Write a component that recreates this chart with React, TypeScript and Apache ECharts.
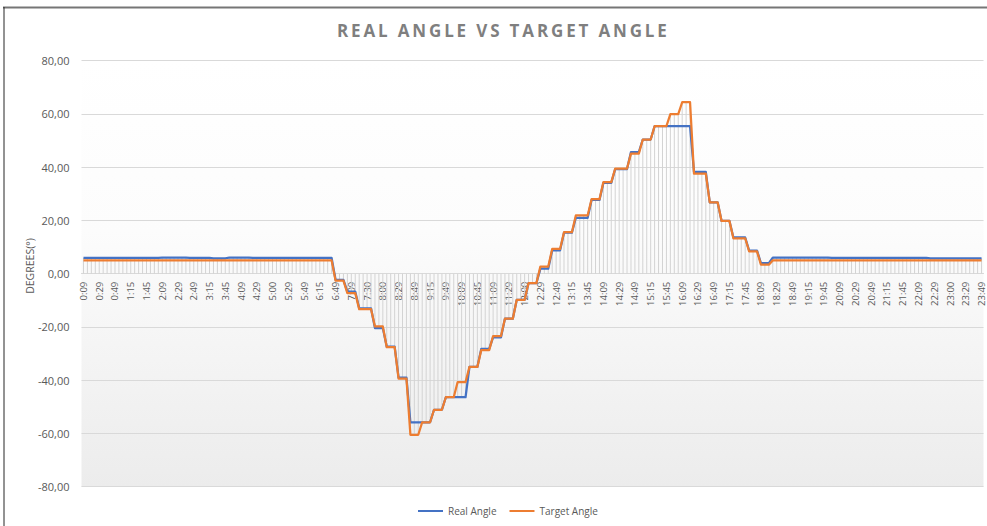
import React, { useEffect, useRef } from "react";
import * as echarts from "echarts";

const TITLE = "REAL ANGLE VS TARGET ANGLE";
const Y_NAME = "DEGREES(°)";
const SERIES_NAMES = ["Real Angle", "Target Angle"];

const tickLabels = [
  "0:09", "0:29", "0:49", "1:15", "1:45", "2:09", "2:29", "2:49", "3:15", "3:45",
  "4:09", "4:29", "5:00", "5:29", "5:49", "6:15", "6:49", "7:09", "7:30", "8:00",
  "8:29", "8:49", "9:15", "9:49", "10:09", "10:45", "11:09", "11:29", "12:00", "12:29",
  "12:49", "13:15", "13:45", "14:09", "14:29", "14:49", "15:15", "15:45", "16:09", "16:29",
  "16:49", "17:15", "17:45", "18:09", "18:29", "18:49", "19:15", "19:45", "20:09", "20:29",
  "20:49", "21:15", "21:45", "22:09", "22:29", "23:00", "23:29", "23:49",
];
// samples between two labelled times
const SAMPLES_PER_LABEL = 4;

const realAngle = [
  5.9, 5.9, 5.9, 5.9, 5.9, 5.9, 5.9, 5.9, 5.9, 5.9,
  5.9, 5.9, 5.9, 5.9, 5.9, 5.9, 5.9, 5.9, 5.9, 5.9,
  6.0, 6.0, 6.0, 6.0, 6.0, 6.0, 6.0, 5.9, 5.9, 5.9,
  5.9, 5.9, 5.9, 5.8, 5.8, 5.8, 5.8, 6.0, 6.0, 6.0,
  6.0, 6.0, 6.0, 5.9, 5.9, 5.9, 5.9, 5.9, 5.9, 5.9,
  5.9, 5.9, 5.9, 5.9, 5.9, 5.9, 5.9, 5.9, 5.9, 5.9,
  5.9, 5.9, 5.9, 5.9,
  -2.3, -2.3, -2.3,
  -6.7, -6.7, -6.7,
  -13.0, -13.0, -13.0, -13.0,
  -20.4, -20.4, -20.4,
  -27.4, -27.4, -27.4,
  -39.0, -39.0, -39.0,
  -55.8, -55.8, -55.8, -55.8, -55.8, -55.8,
  -51.1, -51.1, -51.1,
  -46.4, -46.4, -46.4, -46.4, -46.4, -46.4,
  -35.0, -35.0, -35.0,
  -28.2, -28.2, -28.2,
  -23.9, -23.9, -23.9,
  -16.9, -16.9, -16.9,
  -9.8, -9.8, -9.8,
  -3.5, -3.5, -3.5,
  1.9, 1.9, 1.9,
  8.8, 8.8, 8.8,
  15.4, 15.4, 15.4,
  21.0, 21.0, 21.0, 21.0,
  27.7, 27.7, 27.7,
  34.1, 34.1, 34.1,
  39.3, 39.3, 39.3, 39.3,
  45.7, 45.7, 45.7,
  50.4, 50.4, 50.4,
  55.4, 55.4, 55.4, 55.4, 55.4, 55.4, 55.4, 55.4, 55.4, 55.4,
  38.2, 38.2, 38.2, 38.2,
  26.8, 26.8, 26.8,
  19.8, 19.8, 19.8,
  13.6, 13.6, 13.6, 13.6,
  8.7, 8.7, 8.7,
  4.0, 4.0, 4.0,
  6.0, 6.0, 6.0, 6.0, 6.0, 6.0, 6.0, 6.0, 6.0, 6.0,
  6.0, 6.0, 6.0, 6.0, 6.0, 5.9, 5.9, 5.9, 5.9, 5.9,
  5.9, 5.9, 5.9, 5.9, 5.9, 5.9, 5.9, 5.9, 5.9, 5.9,
  5.9, 5.9, 5.9, 5.9, 5.9, 5.9, 5.9, 5.9, 5.9, 5.9,
  5.8, 5.8, 5.8, 5.8, 5.8, 5.8, 5.8, 5.8, 5.8, 5.8,
  5.8, 5.8, 5.8, 5.8,
];

const targetAngle = [
  5.0, 5.0, 5.0, 5.0, 5.0, 5.0, 5.0, 5.0, 5.0, 5.0,
  5.0, 5.0, 5.0, 5.0, 5.0, 5.0, 5.0, 5.0, 5.0, 5.0,
  5.0, 5.0, 5.0, 5.0, 5.0, 5.0, 5.0, 5.0, 5.0, 5.0,
  5.0, 5.0, 5.0, 5.0, 5.0, 5.0, 5.0, 5.0, 5.0, 5.0,
  5.0, 5.0, 5.0, 5.0, 5.0, 5.0, 5.0, 5.0, 5.0, 5.0,
  5.0, 5.0, 5.0, 5.0, 5.0, 5.0, 5.0, 5.0, 5.0, 5.0,
  5.0, 5.0, 5.0, 5.0,
  -2.6, -2.6, -2.6,
  -7.3, -7.3, -7.3,
  -13.3, -13.3, -13.3, -13.3,
  -19.8, -19.8, -19.8,
  -27.6, -27.6, -27.6,
  -39.4, -39.4, -39.4,
  -60.5, -60.5, -60.5,
  -55.8, -55.8, -55.8,
  -51.1, -51.1, -51.1,
  -46.4, -46.4, -46.4,
  -40.7, -40.7, -40.7,
  -35.0, -35.0, -35.0,
  -28.7, -28.7, -28.7,
  -23.4, -23.4, -23.4,
  -16.9, -16.9, -16.9,
  -9.8, -9.8, -9.8,
  -3.5, -3.5, -3.5,
  2.7, 2.7, 2.7,
  9.3, 9.3, 9.3,
  15.6, 15.6, 15.6,
  21.9, 21.9, 21.9, 21.9,
  28.0, 28.0, 28.0,
  34.4, 34.4, 34.4,
  39.5, 39.5, 39.5, 39.5,
  45.1, 45.1, 45.1,
  50.4, 50.4, 50.4,
  55.4, 55.4, 55.4, 55.4,
  59.9, 59.9, 59.9,
  64.4, 64.4, 64.4,
  37.6, 37.6, 37.6, 37.6,
  26.8, 26.8, 26.8,
  19.8, 19.8, 19.8,
  13.3, 13.3, 13.3, 13.3,
  8.4, 8.4, 8.4,
  3.4, 3.4, 3.4,
  5.0, 5.0, 5.0, 5.0, 5.0, 5.0, 5.0, 5.0, 5.0, 5.0,
  5.0, 5.0, 5.0, 5.0, 5.0, 5.0, 5.0, 5.0, 5.0, 5.0,
  5.0, 5.0, 5.0, 5.0, 5.0, 5.0, 5.0, 5.0, 5.0, 5.0,
  5.0, 5.0, 5.0, 5.0, 5.0, 5.0, 5.0, 5.0, 5.0, 5.0,
  5.0, 5.0, 5.0, 5.0, 5.0, 5.0, 5.0, 5.0, 5.0, 5.0,
  5.0, 5.0, 5.0, 5.0,
];

const Y_MIN = -80;
const Y_MAX = 80;
const Y_STEP = 20;

// plot-area placement (px)
const GRID_TOP = 60.7;
const GRID_BOTTOM = 39.3;
const CHART_H = 526;

export default function App() {
  const ref = useRef<HTMLDivElement | null>(null);

  useEffect(() => {
    if (!ref.current) return;
    const chart = echarts.init(ref.current, undefined, { renderer: "svg" });

    const categories: string[] = [];
    tickLabels.forEach((t, k) => {
      categories.push(t);
      if (k < tickLabels.length - 1) {
        for (let j = 1; j < SAMPLES_PER_LABEL; j++) categories.push("");
      }
    });
    // drop lines: from the axis to the point furthest from it
    const dropData = realAngle.map((v, i) =>
      Math.abs(v) >= Math.abs(targetAngle[i]) ? v : targetAngle[i]
    );

    // put the category axis (and its labels) on the zero line
    const plotH = CHART_H - GRID_TOP - GRID_BOTTOM;
    const zeroFromBottom = (plotH * (0 - Y_MIN)) / (Y_MAX - Y_MIN);

    const font = "'Open Sans', 'Noto Sans', sans-serif";

    chart.setOption({
      animation: false,
      backgroundColor: "#ffffff",
      title: {
        text: TITLE,
        left: 337,
        top: 22,
        padding: 0,
        textStyle: {
          fontFamily: font,
          fontWeight: "bold",
          fontSize: 17,
          color: "#7f7f7f",
        },
      },
      legend: {
        data: SERIES_NAMES,
        left: 418,
        top: 506,
        padding: 0,
        itemWidth: 25,
        itemHeight: 2,
        itemGap: 13,
        icon: "rect",
        textStyle: { fontFamily: font, fontSize: 10, color: "#595959" },
      },
      grid: {
        left: 81.5,
        right: 3.5,
        top: GRID_TOP,
        bottom: GRID_BOTTOM,
        show: true,
        borderWidth: 0,
        backgroundColor: new echarts.graphic.LinearGradient(0, 0, 0, 1, [
          { offset: 0, color: "#ffffff" },
          { offset: 0.4, color: "#fcfcfc" },
          { offset: 1, color: "#ececec" },
        ]),
      },
      xAxis: {
        type: "category",
        data: categories,
        boundaryGap: true,
        position: "bottom",
        offset: -zeroFromBottom,
        axisLine: { onZero: false, lineStyle: { color: "#d9d9d9", width: 1 } },
        axisTick: { show: false },
        axisLabel: {
          interval: SAMPLES_PER_LABEL - 1,
          rotate: 90,
          margin: 8,
          fontFamily: font,
          fontSize: 9.5,
          color: "#595959",
        },
        splitLine: { show: false },
      },
      yAxis: {
        type: "value",
        min: Y_MIN,
        max: Y_MAX,
        interval: Y_STEP,
        axisLine: { show: false },
        axisTick: { show: false },
        axisLabel: {
          margin: 12,
          fontFamily: font,
          fontSize: 11,
          color: "#595959",
          formatter: (v: number) => v.toFixed(2).replace(".", ","),
        },
        splitLine: { lineStyle: { color: "#d9d9d9", width: 1 } },
      },
      graphic: [
        {
          type: "text",
          x: 30,
          y: 266,
          rotation: Math.PI / 2,
          style: {
            text: Y_NAME,
            fontFamily: font,
            fontSize: 10.5,
            fill: "#595959",
            textAlign: "center",
            textVerticalAlign: "middle",
          },
        },
        {
          type: "line",
          shape: { x1: 3, y1: 7.5, x2: 987, y2: 7.5 },
          style: { stroke: "#767676", lineWidth: 2 },
        },
        {
          type: "line",
          shape: { x1: 4, y1: 7, x2: 4, y2: 526 },
          style: { stroke: "#262626", lineWidth: 1 },
        },
      ],
      series: [
        {
          name: "drop",
          type: "bar",
          data: dropData,
          barWidth: 1,
          itemStyle: { color: "#d3d3d3" },
          silent: true,
          z: 1,
        },
        {
          name: SERIES_NAMES[0],
          type: "line",
          data: realAngle,
          showSymbol: false,
          symbol: "none",
          lineStyle: { color: "#4472C4", width: 2.25, join: "round" },
          itemStyle: { color: "#4472C4" },
          z: 3,
        },
        {
          name: SERIES_NAMES[1],
          type: "line",
          data: targetAngle,
          showSymbol: false,
          symbol: "none",
          lineStyle: { color: "#ED7D31", width: 2.25, join: "round" },
          itemStyle: { color: "#ED7D31" },
          z: 4,
        },
      ],
    });

    // Excel-like letter spacing for the title
    ref.current.querySelectorAll("text").forEach((el) => {
      if (el.textContent === TITLE) {
        (el as SVGTextElement).style.letterSpacing = "2.85px";
      }
    });

    return () => chart.dispose();
  }, []);

  return (
    <div
      ref={ref}
      style={{ position: "absolute", left: 0, top: 0, width: 987, height: 526 }}
    />
  );
}
